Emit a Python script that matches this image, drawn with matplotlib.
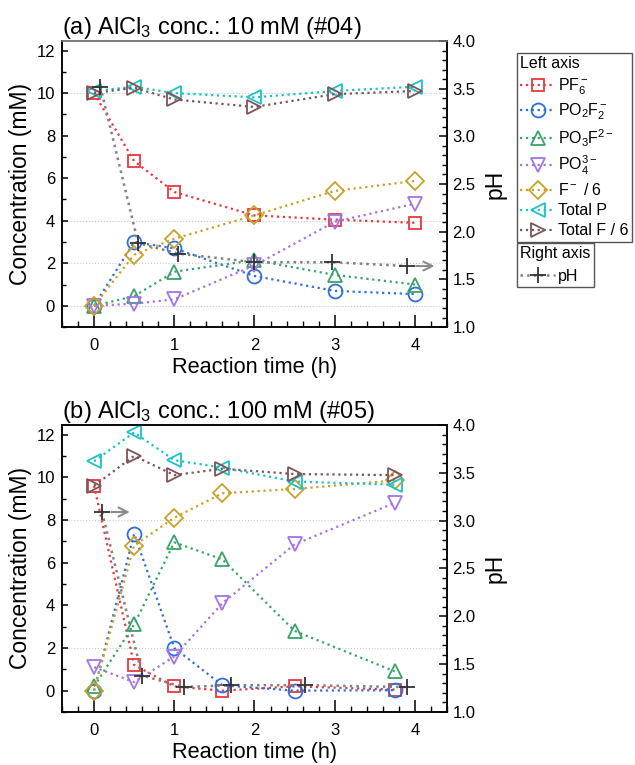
import numpy as np
import matplotlib
matplotlib.use("Agg")
import matplotlib.pyplot as plt
from matplotlib.lines import Line2D
from matplotlib.ticker import MultipleLocator

plt.rcParams['font.family'] = ['Liberation Sans', 'DejaVu Sans']
plt.rcParams['mathtext.fontset'] = 'custom'
plt.rcParams['mathtext.rm'] = 'Liberation Sans'
plt.rcParams['mathtext.it'] = 'Liberation Sans:italic'

# ---- data ----
labels = [r"PF$_6^-$", r"PO$_2$F$_2^-$", r"PO$_3$F$^{2-}$", r"PO$_4^{3-}$",
          r"F$^-$ / 6", "Total P", "Total F / 6"]

# (a) AlCl3 10 mM
t_a = [0, 0.5, 1, 2, 3, 4]
pf6_a = [10.0, 6.8, 5.35, 4.25, 4.05, 3.9]
po2f2_a = [0.0, 3.0, 2.7, 1.4, 0.7, 0.55]
po3f_a = [0.0, 0.45, 1.6, 2.15, 1.45, 1.0]
po4_a = [0.0, 0.1, 0.3, 1.9, 3.95, 4.8]
f_a = [0.0, 2.4, 3.15, 4.25, 5.4, 5.87]
totp_a = [10.1, 10.3, 10.0, 9.8, 10.1, 10.3]
totf_a = [10.0, 10.25, 9.7, 9.35, 9.95, 10.1]
t_ph_a = [0.08, 0.55, 1.05, 2.0, 2.97, 3.9]
ph_a = [3.52, 1.88, 1.77, 1.68, 1.68, 1.64]

# (b) AlCl3 100 mM
t_b = [0, 0.5, 1, 1.6, 2.5, 3.75]
pf6_b = [9.6, 1.2, 0.2, 0.0, 0.2, 0.05]
po2f2_b = [0.0, 7.35, 2.0, 0.25, 0.0, 0.02]
po3f_b = [0.2, 3.1, 6.95, 6.15, 2.8, 0.9]
po4_b = [1.1, 0.4, 1.6, 4.1, 6.85, 8.8]
f_b = [0.0, 6.8, 8.1, 9.25, 9.45, 9.85]
totp_b = [10.75, 12.1, 10.8, 10.45, 9.8, 9.65]
totf_b = [9.6, 11.0, 10.1, 10.4, 10.15, 10.1]
t_ph_b = [0.1, 0.6, 1.12, 1.71, 2.63, 3.9]
ph_b = [3.09, 1.38, 1.26, 1.28, 1.28, 1.26]

colors = ['#e8383d', '#2f6fdc', '#3aa36a', '#a474e6', '#c9a12a', '#1cc3c6', '#7d5459']
markers = ['s', 'o', '^', 'v', 'D', '<', '>']
msizes = [9, 10, 10.5, 10.5, 9, 10.5, 10.5]
ph_color = '#333333'
ph_line = '#808080'

fig = plt.figure(figsize=(6.35, 7.65), dpi=100)


def panel(rect, title, t, series, t_ph, ph, grid_vals, arrow_idx, top_grey):
    ax = fig.add_axes(rect)
    for y, c, m, ms in zip(series, colors, markers, msizes):
        ax.plot(t, y, linestyle=':', lw=1.6, color=c, marker=m, ms=ms,
                mfc='none', mec=c, mew=1.3, zorder=3)
    for g in grid_vals:
        ax.axhline(g, color='#c8c8c8', lw=0.8, ls=':', zorder=1)
    ax.set_xlim(-0.4, 4.4)
    ax.set_ylim(-1, 12.45)
    ax.xaxis.set_major_locator(MultipleLocator(1))
    ax.xaxis.set_minor_locator(MultipleLocator(0.2))
    ax.yaxis.set_major_locator(MultipleLocator(2))
    ax.yaxis.set_minor_locator(MultipleLocator(1))
    ax.tick_params(axis='x', which='major', direction='in', length=8.5, width=1.1,
                   labelsize=12, pad=8, top=False)
    ax.tick_params(axis='x', which='minor', direction='in', length=4.5, width=1.0, top=False)
    ax.tick_params(axis='y', which='major', direction='in', length=4.5, width=1.1,
                   labelsize=12, pad=5, right=False)
    ax.tick_params(axis='y', which='minor', direction='in', length=3, width=1.0, right=False)
    ax.set_xlabel("Reaction time (h)", fontsize=15.7, labelpad=3)
    ax.set_ylabel("Concentration (mM)", fontsize=16.5, labelpad=3)
    ax.set_title(title, loc='left', fontsize=17, pad=4)
    for s in ax.spines.values():
        s.set_linewidth(1.1)
    if top_grey:
        ax.spines['top'].set_color('#777777')

    ax2 = ax.twinx()
    ax2.plot(t_ph, ph, linestyle=':', lw=1.8, color=ph_line, zorder=3)
    ax2.plot(t_ph, ph, linestyle='none', marker='+', ms=12, mew=1.3,
             color=ph_color, zorder=4)
    ax2.annotate('', xy=(t_ph[arrow_idx] + 0.38, ph[arrow_idx]),
                 xytext=(t_ph[arrow_idx] + 0.08, ph[arrow_idx]),
                 arrowprops=dict(arrowstyle='->', color='#8a8a8a', lw=1.5,
                                 mutation_scale=16))
    ax2.set_ylim(1.0, 4.0)
    ax2.yaxis.set_major_locator(MultipleLocator(0.5))
    ax2.yaxis.set_minor_locator(MultipleLocator(0.1))
    ax2.yaxis.set_major_formatter(plt.FormatStrFormatter('%.1f'))
    ax2.tick_params(axis='y', which='major', direction='in', length=6, width=1.1,
                    labelsize=12, pad=4)
    ax2.tick_params(axis='y', which='minor', direction='in', length=3.5, width=1.0)
    ax2.set_ylabel("pH", fontsize=16.5, labelpad=6)
    for s in ax2.spines.values():
        s.set_linewidth(1.1)
    if top_grey:
        ax2.spines['top'].set_color('#777777')
    return ax, ax2


panel([0.0976, 0.5725, 0.6063, 0.3739], r"(a) AlCl$_3$ conc.: 10 mM (#04)",
      t_a, [pf6_a, po2f2_a, po3f_a, po4_a, f_a, totp_a, totf_a],
      t_ph_a, ph_a, [0, 2, 4, 10], 5, True)
panel([0.0976, 0.0693, 0.6063, 0.3752], r"(b) AlCl$_3$ conc.: 100 mM (#05)",
      t_b, [pf6_b, po2f2_b, po3f_b, po4_b, f_b, totp_b, totf_b],
      t_ph_b, ph_b, [2, 8], 0, False)

# legends
handles = [Line2D([], [], ls=':', lw=1.6, color=c, marker=m, ms=ms, mfc='none', mew=1.3)
           for c, m, ms in zip(colors, markers, msizes)]
leg_kw = dict(loc='upper left', fontsize=11.5, title_fontsize=11.5, frameon=True,
              fancybox=False, edgecolor='#555555', framealpha=1, handlelength=2.2,
              handletextpad=0.2, borderpad=0.2, borderaxespad=0)
leg1 = fig.legend(handles, labels, title="Left axis", bbox_to_anchor=(0.814, 0.931),
                  labelspacing=0.32, **leg_kw)
leg1._legend_box.align = 'left'
leg1.get_frame().set_linewidth(1.0)

ph_handle = Line2D([], [], ls=':', lw=1.8, color=ph_line, marker='+', ms=12,
                   mew=1.3, mec=ph_color)
leg2 = fig.legend([ph_handle], ["pH"], title="Right axis", bbox_to_anchor=(0.814, 0.683),
                  **leg_kw)
leg2._legend_box.align = 'left'
leg2.get_frame().set_linewidth(1.0)

fig.savefig("out.png", dpi=100)
